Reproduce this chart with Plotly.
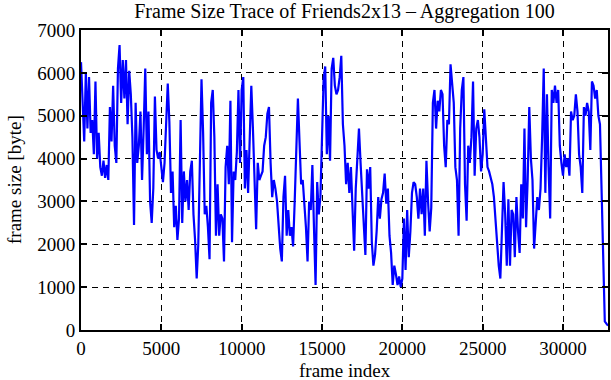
import plotly.graph_objects as go

# Frame sizes (bytes), aggregated over 100 frames
seg_00000 = [6250, 5100, 4400, 6000, 4700, 5900, 4600, 4900, 4100, 5800,
             4000, 4600, 3800, 3600, 3950, 3550, 3850, 3500, 5200, 4400,
             5700, 4300, 3900, 6100, 6650, 5300, 6300, 5400, 6300, 4800,
             6050, 5500, 4500, 2450, 5300, 3900, 4300, 5100, 3500, 4700,
             6100, 4100, 5100, 3000, 2500, 3300, 5450, 4200, 4000, 4150]
seg_05000 = [3700, 3450, 3900, 4900, 5750, 4850, 3200, 3700, 2400, 2900,
             2100, 2600, 4900, 2500, 3700, 3000, 3500, 2800, 3700, 3950,
             2700, 2100, 1200, 2000, 4200, 5850, 4600, 2700, 2900, 2400,
             1650, 5300, 5600, 4500, 2200, 3400, 2200, 2700, 2600, 1600,
             3800, 4300, 3400, 5350, 2050, 3700, 3500, 4150, 5600, 3900]
seg_10000 = [5600, 5900, 3300, 4200, 3200, 4600, 5700, 4700, 3300, 2350,
             3900, 3500, 3600, 3700, 4300, 4500, 5050, 5200, 3900, 3100,
             3500, 3300, 3000, 2300, 1900, 1600, 3100, 3600, 2200, 2800,
             2200, 2400, 1950, 3000, 4000, 5400, 4400, 3400, 3500, 3050,
             2400, 1600, 3000, 2800, 3850, 2400, 1050, 3450, 2700, 3100]
seg_15000 = [4300, 5850, 6150, 4100, 5000, 3950, 6100, 6350, 5700, 5500,
             5600, 5900, 6400, 4800, 4300, 3400, 3900, 3200, 3800, 2900,
             1850, 3300, 4100, 4700, 3900, 3200, 2600, 1750, 3750, 3300,
             3800, 2050, 1500, 1750, 2300, 3100, 2600, 3050, 3200, 3650,
             2950, 3300, 2200, 1800, 1050, 1500, 1300, 1050, 1250, 1000]
seg_20000 = [1200, 2600, 1400, 2800, 1700, 2300, 3200, 3450, 3400, 3100,
             2600, 3300, 2700, 3300, 2200, 3950, 3000, 2300, 2850, 5300,
             5600, 4700, 5350, 5100, 5600, 5500, 4300, 3800, 4900, 4800,
             6200, 5800, 5300, 3800, 3500, 2200, 4700, 5600, 5900, 3400,
             2550, 4300, 3900, 4500, 5800, 3600, 4700, 4900, 4500, 3700]
seg_25000 = [4100, 5150, 4400, 3800, 3700, 3550, 3400, 3100, 2500, 2100,
             1500, 1200, 2500, 3450, 2700, 1500, 3050, 1500, 2800, 2700,
             1700, 3100, 2300, 1800, 3400, 2600, 4700, 2400, 3500, 5200,
             4000, 3500, 1900, 2400, 3100, 2800, 3300, 4500, 6100, 3200,
             5500, 3800, 2600, 5600, 5300, 5700, 5300, 5600, 4300, 3900]
seg_30000 = [3600, 4100, 3800, 4000, 3600, 5100, 4900, 5000, 5500, 5100,
             4100, 3800, 3200, 5200, 5000, 5300, 5100, 4200, 5800, 5700,
             5400, 5600, 5000, 4800, 3000, 1200, 200, 150, 100]

frame_size = seg_00000 + seg_05000 + seg_10000 + seg_15000 + seg_20000 + seg_25000 + seg_30000
aggregation = 100
frame_index = [i * aggregation for i in range(len(frame_size))]

x_ticks = [0, 5000, 10000, 15000, 20000, 25000, 30000]
y_ticks = [0, 1000, 2000, 3000, 4000, 5000, 6000, 7000]

title_text = "Frame Size Trace of Friends2x13 \u2013 Aggregation 100"
x_label = "frame index"
y_label = "frame size [byte]"

FONT = "Liberation Serif"

fig = go.Figure()
fig.add_trace(go.Scatter(x=frame_index, y=frame_size, mode="lines",
                         line=dict(color="#0000ff", width=2.2), showlegend=False,
                         hoverinfo="skip"))

axis_common = dict(
    showline=True, linecolor="black", linewidth=2, mirror="ticks",
    ticks="inside", ticklen=6, tickwidth=1.5, tickcolor="black",
    showgrid=True, gridcolor="black", gridwidth=1, griddash="6px,5px",
    zeroline=False, automargin=False,
    tickfont=dict(family=FONT, size=19, color="black"),
)

fig.update_xaxes(range=[0, 32800], tickvals=x_ticks, ticktext=[str(v) for v in x_ticks],
                 **axis_common)
fig.update_yaxes(range=[0, 7000], tickvals=y_ticks, ticktext=[str(v) for v in y_ticks],
                 **axis_common)

fig.update_layout(
    width=611, height=380,
    margin=dict(l=81, r=3, t=30, b=50),
    paper_bgcolor="white", plot_bgcolor="white",
    font=dict(family=FONT, color="black", size=18),
    title=dict(text=title_text, x=0.5, xref="paper", xanchor="center",
               y=(380 - 11) / 380, yref="container", yanchor="middle",
               font=dict(family=FONT, size=20, color="black")),
    annotations=[
        dict(text=x_label, xref="paper", yref="paper", x=0.5, y=-(370 - 329.7) / 300,
             xanchor="center", yanchor="middle", showarrow=False,
             font=dict(family=FONT, size=19, color="black")),
        dict(text=y_label, xref="paper", yref="paper", x=-(81 - 14) / 527, y=0.5,
             xanchor="center", yanchor="middle", textangle=-90, showarrow=False,
             font=dict(family=FONT, size=19, color="black")),
    ],
)

fig.write_html("out.html", config={"displayModeBar": False},
               post_script="document.body.style.margin='0px';document.body.style.overflow='hidden';")
